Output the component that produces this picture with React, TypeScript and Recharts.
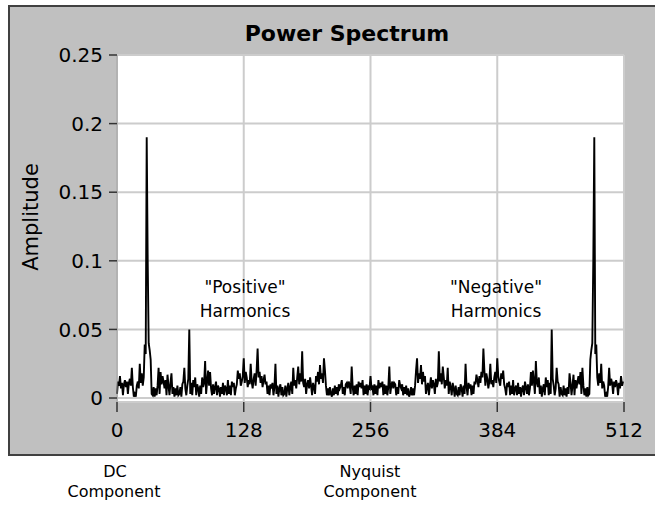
import { LineChart, Line, XAxis, YAxis, CartesianGrid } from "recharts";

// power spectrum, bins 0..256 ("positive" harmonics up to Nyquist)
const spectrumLow = [
  0.003, 0.012, 0.009, 0.016, 0.007, 0.011, 0.002, 0.010, 0.013, 0.008, 0.012, 0.003, 0.011, 0.014, 0.009, 0.022,
  0.008, 0.001, 0.003, 0.001, 0.009, 0.012, 0.007, 0.025, 0.011, 0.018, 0.009, 0.015, 0.039, 0.032, 0.19, 0.1,
  0.04, 0.035, 0.028, 0.003, 0.002, 0.008, 0.001, 0.007, 0.002, 0.009, 0.022, 0.003, 0.019, 0.010, 0.016, 0.012,
  0.007, 0.013, 0.002, 0.017, 0.009, 0.002, 0.011, 0.018, 0.003, 0.008, 0.001, 0.007, 0.002, 0.009, 0.002, 0.003,
  0.008, 0.001, 0.010, 0.012, 0.022, 0.007, 0.002, 0.009, 0.014, 0.05, 0.003, 0.011, 0.002, 0.013, 0.008, 0.015,
  0.002, 0.010, 0.007, 0.001, 0.009, 0.003, 0.015, 0.008, 0.011, 0.027, 0.003, 0.012, 0.020, 0.009, 0.019, 0.007,
  0.002, 0.010, 0.003, 0.008, 0.012, 0.002, 0.009, 0.007, 0.001, 0.008, 0.003, 0.011, 0.002, 0.009, 0.007, 0.002,
  0.013, 0.003, 0.009, 0.002, 0.012, 0.008, 0.011, 0.002, 0.007, 0.010, 0.020, 0.014, 0.018, 0.009, 0.012, 0.016,
  0.029, 0.011, 0.019, 0.015, 0.008, 0.013, 0.010, 0.025, 0.012, 0.007, 0.014, 0.018, 0.009, 0.020, 0.036, 0.015,
  0.019, 0.011, 0.016, 0.008, 0.013, 0.017, 0.010, 0.012, 0.003, 0.009, 0.002, 0.010, 0.007, 0.011, 0.002, 0.008,
  0.025, 0.003, 0.009, 0.001, 0.007, 0.010, 0.002, 0.008, 0.002, 0.003, 0.009, 0.001, 0.007, 0.011, 0.002, 0.008,
  0.012, 0.003, 0.022, 0.009, 0.013, 0.007, 0.015, 0.023, 0.010, 0.018, 0.012, 0.034, 0.011, 0.008, 0.014, 0.003,
  0.010, 0.013, 0.007, 0.015, 0.009, 0.002, 0.011, 0.008, 0.003, 0.016, 0.012, 0.019, 0.010, 0.024, 0.014, 0.018,
  0.011, 0.029, 0.020, 0.009, 0.002, 0.007, 0.002, 0.008, 0.003, 0.001, 0.007, 0.002, 0.009, 0.003, 0.008, 0.002,
  0.010, 0.007, 0.009, 0.013, 0.003, 0.008, 0.002, 0.010, 0.011, 0.007, 0.012, 0.009, 0.003, 0.023, 0.008, 0.002,
  0.009, 0.003, 0.010, 0.002, 0.012, 0.008, 0.011, 0.007, 0.013, 0.002, 0.009, 0.003, 0.010, 0.002, 0.008, 0.007,
  0.016,
];

// bins 257..511 ("negative" harmonics)
const spectrumHigh = [
  0.007, 0.008, 0.002, 0.010, 0.003, 0.009, 0.002, 0.013, 0.007, 0.011, 0.008, 0.012, 0.002, 0.010, 0.003, 0.009,
  0.002, 0.008, 0.023, 0.003, 0.009, 0.012, 0.007, 0.011, 0.010, 0.002, 0.008, 0.003, 0.013, 0.009, 0.007, 0.010,
  0.002, 0.008, 0.003, 0.009, 0.002, 0.007, 0.001, 0.003, 0.008, 0.002, 0.007, 0.002, 0.009, 0.020, 0.029, 0.011,
  0.018, 0.014, 0.024, 0.010, 0.019, 0.012, 0.016, 0.003, 0.008, 0.011, 0.002, 0.009, 0.015, 0.007, 0.013, 0.010,
  0.003, 0.014, 0.008, 0.011, 0.034, 0.012, 0.018, 0.010, 0.023, 0.015, 0.007, 0.013, 0.009, 0.022, 0.003, 0.012,
  0.008, 0.002, 0.011, 0.007, 0.001, 0.009, 0.003, 0.002, 0.008, 0.002, 0.010, 0.007, 0.001, 0.009, 0.003, 0.025,
  0.008, 0.002, 0.011, 0.007, 0.010, 0.002, 0.009, 0.003, 0.012, 0.010, 0.017, 0.013, 0.008, 0.016, 0.011, 0.019,
  0.015, 0.036, 0.020, 0.009, 0.018, 0.014, 0.007, 0.012, 0.025, 0.010, 0.013, 0.008, 0.015, 0.019, 0.011, 0.029,
  0.016, 0.012, 0.009, 0.018, 0.014, 0.020, 0.010, 0.007, 0.002, 0.011, 0.008, 0.012, 0.002, 0.009, 0.003, 0.013,
  0.002, 0.007, 0.009, 0.002, 0.011, 0.003, 0.008, 0.001, 0.007, 0.009, 0.002, 0.012, 0.008, 0.003, 0.010, 0.002,
  0.007, 0.019, 0.009, 0.020, 0.012, 0.003, 0.027, 0.011, 0.008, 0.015, 0.003, 0.009, 0.001, 0.007, 0.010, 0.002,
  0.015, 0.008, 0.013, 0.002, 0.011, 0.003, 0.05, 0.014, 0.009, 0.002, 0.007, 0.022, 0.012, 0.010, 0.001, 0.008,
  0.003, 0.002, 0.009, 0.002, 0.007, 0.001, 0.008, 0.003, 0.018, 0.011, 0.002, 0.009, 0.017, 0.002, 0.013, 0.007,
  0.012, 0.016, 0.010, 0.019, 0.003, 0.022, 0.009, 0.002, 0.007, 0.001, 0.008, 0.002, 0.003, 0.028, 0.035, 0.04,
  0.1, 0.19, 0.032, 0.039, 0.015, 0.009, 0.018, 0.011, 0.025, 0.007, 0.012, 0.009, 0.001, 0.003, 0.001, 0.008,
  0.022, 0.009, 0.014, 0.011, 0.003, 0.012, 0.008, 0.013, 0.010, 0.002, 0.011, 0.007, 0.016, 0.009, 0.012,
];

const xTicks = [0, 128, 256, 384, 512];
const yTicks = [0, 0.05, 0.1, 0.15, 0.2, 0.25];

const data = [...spectrumLow, ...spectrumHigh].map((amplitude, k) => ({ k, amplitude }));

const FONT = "DejaVu Sans";

export default function App() {
  return (
    <div style={{ position: "absolute", left: 0, top: 0, width: 655, height: 506, overflow: "hidden", background: "#fff" }}>
      {/* grey panel */}
      <div
        style={{
          position: "absolute",
          left: 8,
          top: 5,
          width: 660,
          height: 451,
          boxSizing: "border-box",
          background: "#c0c0c0",
          border: "2px solid #404040",
        }}
      />
      <LineChart
        width={655}
        height={506}
        data={data}
        margin={{ top: 55, right: 31, bottom: 0, left: 0 }}
        style={{ position: "absolute", left: 0, top: 0 }}
      >
        <CartesianGrid stroke="#cccccc" strokeWidth={2} fill="#ffffff" fillOpacity={1} />
        <XAxis
          dataKey="k"
          type="number"
          domain={[0, 512]}
          ticks={xTicks}
          height={104}
          axisLine={false}
          tickSize={10}
          tickMargin={11}
          tickLine={{ stroke: "#333", strokeWidth: 1.5 }}
          tick={{ fill: "#000", fontSize: 20, fontFamily: FONT }}
        />
        <YAxis
          type="number"
          domain={[-0.0029, 0.25]}
          ticks={yTicks}
          width={117}
          axisLine={{ stroke: "#999" }}
          tickSize={8}
          tickMargin={6}
          tickLine={{ stroke: "#333", strokeWidth: 1.5 }}
          tick={{ fill: "#000", fontSize: 20, fontFamily: FONT }}
        />
        <Line
          type="linear"
          dataKey="amplitude"
          stroke="#000"
          strokeWidth={1.9}
          dot={false}
          isAnimationActive={false}
        />
      </LineChart>
      <svg width={655} height={506} style={{ position: "absolute", left: 0, top: 0, pointerEvents: "none" }} fontFamily={FONT}>
        <text x={347} y={41} textAnchor="middle" fontSize={22} fontWeight="bold">Power Spectrum</text>
        <text x={38} y={217} textAnchor="middle" fontSize={21} transform="rotate(-90 38 217)">Amplitude</text>
        <text x={245} y={293} textAnchor="middle" fontSize={17}>"Positive"</text>
        <text x={245} y={317} textAnchor="middle" fontSize={17}>Harmonics</text>
        <text x={496} y={293} textAnchor="middle" fontSize={17}>"Negative"</text>
        <text x={496} y={317} textAnchor="middle" fontSize={17}>Harmonics</text>
        <text x={115} y={477} textAnchor="middle" fontSize={16}>DC</text>
        <text x={114} y={497} textAnchor="middle" fontSize={16}>Component</text>
        <text x={370} y={477} textAnchor="middle" fontSize={16}>Nyquist</text>
        <text x={370} y={497} textAnchor="middle" fontSize={16}>Component</text>
      </svg>
    </div>
  );
}
